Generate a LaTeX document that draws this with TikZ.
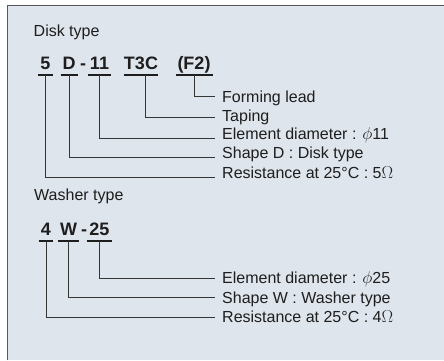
\documentclass[tikz,border=0pt]{standalone}
\usepackage{fontspec}
\setmainfont{Liberation Sans}
\usetikzlibrary{positioning,calc}
\definecolor{panelColor}{HTML}{DFE5EC}
\definecolor{frameColor}{HTML}{585858}
\definecolor{inkColor}{HTML}{1E1E1E}
\newcommand{\ohm}{$\Omega$}
\newcommand{\dia}[1]{$\phi$#1}
\tikzset{
	code/.style={font=\fontsize{18}{18}\selectfont\bfseries, text=inkColor, anchor=base,
		inner xsep=2pt, inner ysep=0pt, outer sep=0pt},
	head/.style={font=\fontsize{16}{19}\selectfont, text=inkColor, anchor=base west, inner sep=0pt},
	desc/.style={font=\fontsize{16}{19}\selectfont, text=inkColor, anchor=base west, inner sep=0pt},
	uline/.style={draw=inkColor, line width=2.5pt},
	lead/.style={draw=inkColor!90, line width=0.9pt}
}

\begin{document}
\begin{tikzpicture}[x=1pt,y=-1pt]
	\useasboundingbox (0,0) rectangle (444,360);
	\fill[panelColor] (7.5,5.5) rectangle (444,360);
	\draw[frameColor, line width=1.6pt] (7.5,360) -- (7.5,5.5) -- (444,5.5);
	
	% disk type
	\node[head] (hDisk) at (33.5,36) {Disk type};
	\node[code] (c5) at (45.5,69) {5};
	\node[code] (cD) at (69,69) {D};
	\node[code] (cDashD) at (83,69) {-};
	\node[code] (c11) at (99.5,69) {11};
	\node[code, inner xsep=0pt] (cT3C) at (141,69) {T3C};
	\node[code] (cF2) at (194,69) {(F2)};
	
	\node[desc] (dF2) at (222,102) {Forming lead};
	\node[desc] (dT3C) at (222,121) {Taping};
	\node[desc] (d11) at (222,139) {Element diameter : \dia{11}};
	\node[desc] (dD) at (222,158.5) {Shape D : Disk type};
	\node[desc] (d5) at (222,178.3) {Resistance at 25°C : 5\ohm};
	
	% washer type
	\node[head] (hWasher) at (34,200.5) {Washer type};
	\node[code] (c4) at (46,235) {4};
	\node[code] (cW) at (68.5,235) {W};
	\node[code] (cDashW) at (84,235) {-};
	\node[code] (c25) at (99.5,235) {25};
	
	\node[desc] (d25) at (222,283.5) {Element diameter : \dia{25}};
	\node[desc] (dW) at (222,303) {Shape W : Washer type};
	\node[desc] (d4) at (222,322.5) {Resistance at 25°C : 4\ohm};
	
	\foreach \n in {c5,cD,c11,cT3C,cF2,c4,cW,c25}
		\draw[uline] ([yshift=-6pt]\n.base west) -- ([yshift=-6pt]\n.base east);
	
	% leads: code / label / lift above baseline / x offset
	\foreach \c/\d/\s/\dx in {cF2/dF2/5.3/0, cT3C/dT3C/4/4, c11/d11/1/0, cD/dD/1/0, c5/d5/1/0,
			c25/d25/5.2/0, cW/dW/5.7/0, c4/d4/5.2/0}
		\draw[lead] ([xshift=\dx pt,yshift=-6pt]\c.base) |- ([xshift=-7pt,yshift=\s pt]\d.base west);
\end{tikzpicture}
\end{document}
